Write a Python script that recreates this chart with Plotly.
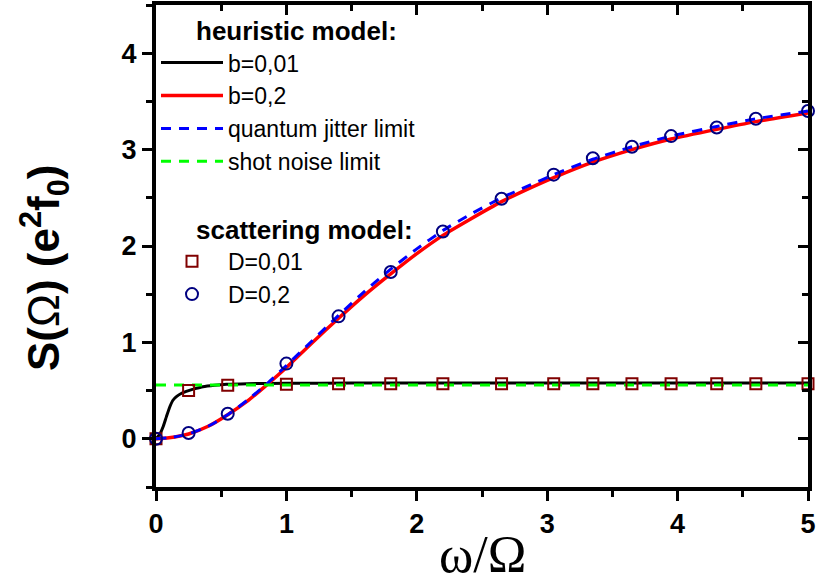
import plotly.graph_objects as go

# ---------------- data ----------------
# heuristic model, b = 0.01 (black)
x_b001 = [0, 0.03, 0.056, 0.08, 0.107, 0.13, 0.159, 0.2, 0.25, 0.3, 0.36, 0.45, 0.54, 0.7, 1.0, 1.5, 2.0, 3.0, 4.0, 5.0]
y_b001 = [0, 0.05, 0.13, 0.23, 0.335, 0.40, 0.44, 0.475, 0.50, 0.52, 0.54, 0.555, 0.565, 0.572, 0.576, 0.578, 0.578, 0.578, 0.578, 0.578]

# common x grid for the b = 0.2 curve and the quantum jitter limit
x_grid = [0, 0.1, 0.25, 0.4, 0.55, 0.7, 0.85, 1.0, 1.2, 1.4, 1.6, 1.8, 2.0, 2.2, 2.4, 2.65, 2.85, 3.05, 3.35, 3.65, 3.95, 4.3, 4.6, 5.0]
y_b02 = [0, 0.01, 0.05, 0.13, 0.25, 0.39, 0.56, 0.74, 1.00, 1.25, 1.49, 1.71, 1.92, 2.11, 2.27, 2.46, 2.59, 2.71, 2.87, 3.00, 3.11, 3.21, 3.29, 3.38]
y_jitter = [0, 0.01, 0.05, 0.13, 0.25, 0.40, 0.57, 0.76, 1.02, 1.28, 1.53, 1.76, 1.97, 2.16, 2.32, 2.50, 2.62, 2.74, 2.90, 3.03, 3.14, 3.24, 3.32, 3.40]

# shot noise limit
x_shot = [0, 5]
y_shot = [0.557, 0.557]

# scattering model
x_scat = [0, 0.25, 0.55, 1.0, 1.4, 1.8, 2.2, 2.65, 3.05, 3.35, 3.65, 3.95, 4.3, 4.6, 5.0]
y_D001 = [0, 0.50, 0.555, 0.565, 0.57, 0.57, 0.57, 0.57, 0.57, 0.57, 0.57, 0.57, 0.57, 0.57, 0.57]
y_D02 = [0, 0.06, 0.26, 0.78, 1.27, 1.73, 2.15, 2.49, 2.74, 2.91, 3.03, 3.14, 3.23, 3.32, 3.40]

x_ticks = [0, 1, 2, 3, 4, 5]
y_ticks = [0, 1, 2, 3, 4]

# ---------------- figure ----------------
fig = go.Figure()
fig.add_trace(go.Scatter(x=x_b001, y=y_b001, mode="lines", name="b=0,01",
                         line=dict(color="black", width=3, shape="spline", smoothing=0.6),
                         legendgroup="h"))
fig.add_trace(go.Scatter(x=x_grid, y=y_b02, mode="lines", name="b=0,2",
                         line=dict(color="#FF0000", width=3.5, shape="spline", smoothing=0.6),
                         legendgroup="h"))
fig.add_trace(go.Scatter(x=x_grid, y=y_jitter, mode="lines", name="quantum jitter limit",
                         line=dict(color="#0000FF", width=3, dash="10px,8px", shape="spline", smoothing=0.6),
                         legendgroup="h"))
fig.add_trace(go.Scatter(x=x_shot, y=y_shot, mode="lines", name="shot noise limit",
                         line=dict(color="#00FF00", width=3, dash="10px,8px"),
                         legendgroup="h"))
fig.add_trace(go.Scatter(x=x_scat, y=y_D001, mode="markers", name="D=0,01",
                         marker=dict(symbol="square-open", size=11, color="#800000",
                                     line=dict(width=2, color="#800000")),
                         cliponaxis=False, legendgroup="s"))
fig.add_trace(go.Scatter(x=x_scat, y=y_D02, mode="markers", name="D=0,2",
                         marker=dict(symbol="circle-open", size=12, color="#000080",
                                     line=dict(width=2, color="#000080")),
                         cliponaxis=False, legendgroup="s"))

tick_font = dict(family="Liberation Sans, Arial", size=27, color="black")

common_axis = dict(showline=True, linewidth=4, linecolor="black", showgrid=False,
                   zeroline=False, automargin=False, ticklen=10, tickwidth=3, tickcolor="black")

fig.update_layout(
    template="none",
    width=816, height=585,
    margin=dict(l=156, r=8, t=5, b=98, autoexpand=False),
    paper_bgcolor="white", plot_bgcolor="white",
    showlegend=True,
    legend=dict(x=0.0, y=0.925, xanchor="left", yanchor="top",
                font=dict(family="Liberation Sans, Arial", size=23, color="black"),
                bgcolor="rgba(0,0,0,0)", borderwidth=0, traceorder="grouped", tracegroupgap=67,
                itemwidth=62),
    xaxis=dict(range=[0, 5], tickvals=x_ticks, ticktext=["<b>%d</b>" % v for v in x_ticks],
               ticks="outside",
               minor=dict(ticks="outside", ticklen=6, tickwidth=3, tickcolor="black", dtick=0.5, tick0=0),
               tickfont=tick_font, title=None, **common_axis),
    yaxis=dict(range=[-0.5, 4.5], tickvals=y_ticks, ticktext=["<b>%d</b>" % v for v in y_ticks],
               ticks="outside",
               minor=dict(ticks="outside", ticklen=6, tickwidth=3, tickcolor="black", dtick=0.5, tick0=0),
               tickfont=tick_font, title=None, **common_axis),
    xaxis2=dict(range=[0, 5], overlaying="x", side="top", matches="x",
                tickvals=x_ticks, showticklabels=False, ticks="inside",
                minor=dict(ticks="inside", ticklen=6, tickwidth=3, tickcolor="black", dtick=0.5, tick0=0),
                **common_axis),
    yaxis2=dict(range=[-0.5, 4.5], overlaying="y", side="right", matches="y",
                tickvals=y_ticks, showticklabels=False, ticks="inside",
                minor=dict(ticks="inside", ticklen=6, tickwidth=3, tickcolor="black", dtick=0.5, tick0=0),
                **common_axis),
)

# invisible helper trace so the mirrored axes are drawn
fig.add_trace(go.Scatter(x=[None], y=[None], xaxis="x2", yaxis="y2", showlegend=False, hoverinfo="skip"))

fig.add_annotation(text="<b>heuristic model:</b>", xref="paper", yref="paper",
                   x=(194 - 156) / 652, y=(487 - 31) / 482, xanchor="left", yanchor="middle",
                   showarrow=False, font=dict(family="Liberation Sans, Arial", size=26, color="black"))
fig.add_annotation(text="<b>scattering model:</b>", xref="paper", yref="paper",
                   x=(194 - 156) / 652, y=(487 - 230) / 482, xanchor="left", yanchor="middle",
                   showarrow=False, font=dict(family="Liberation Sans, Arial", size=26, color="black"))

fig.add_annotation(text="<b>S(</b>Ω<b>) (e<sup>2</sup>f<sub>0</sub>)</b>", xref="paper", yref="paper",
                   x=(44 - 156) / 652, y=(487 - 268) / 482, textangle=-90,
                   xanchor="center", yanchor="middle", showarrow=False,
                   font=dict(family="Liberation Sans, Arial", size=44, color="black"))
fig.add_annotation(text="ω/Ω", xref="paper", yref="paper",
                   x=0.5, y=(487 - 554) / 482, xanchor="center", yanchor="middle",
                   showarrow=False, font=dict(family="Liberation Serif, Times New Roman", size=52, color="black"))

# remove the browser's default 8px body margin so the 816x585 figure fills the window exactly
fig.write_html("out.html", config={"displayModeBar": False},
               post_script="document.body.style.margin='0';")
